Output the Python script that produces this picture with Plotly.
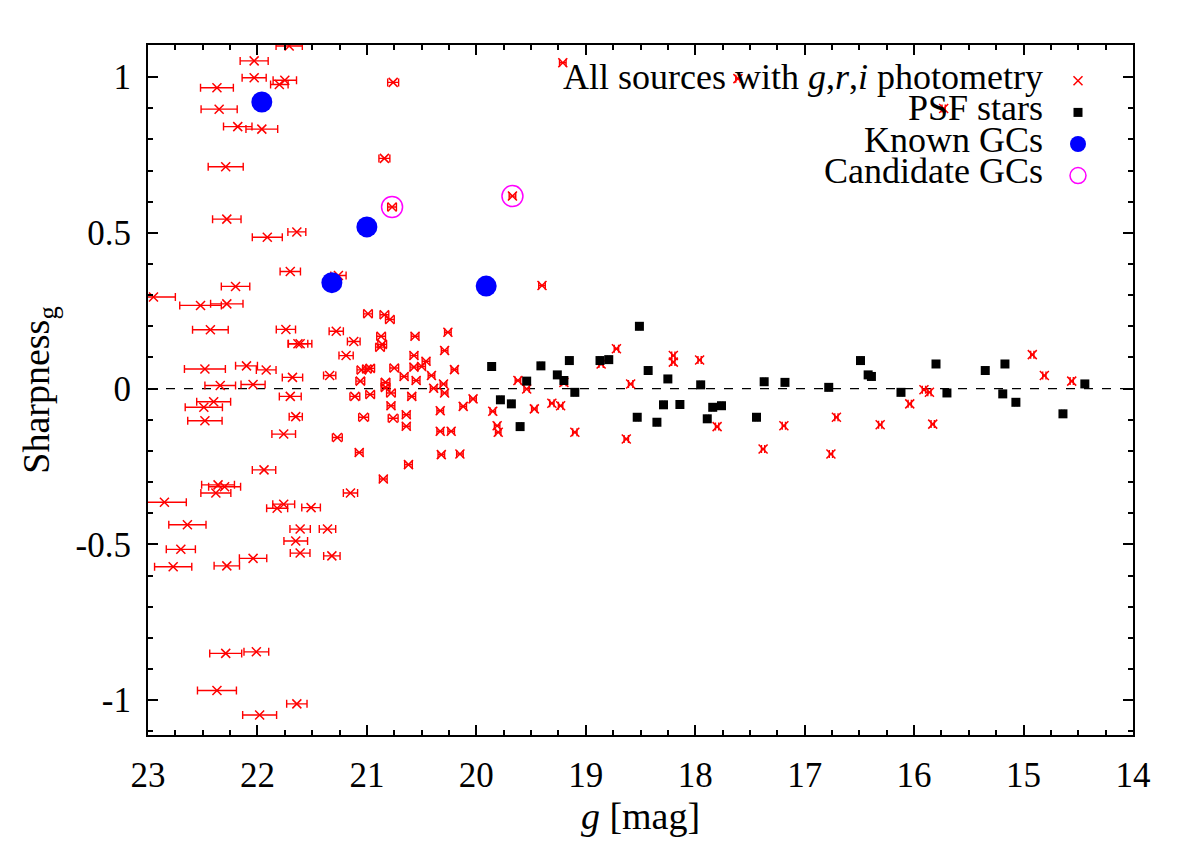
import plotly.graph_objects as go

# ---- All sources with g,r,i photometry (g, sharpness, g error) ----
g_all = [21.71, 22.03, 22.03, 21.75, 21.80, 22.37, 22.35, 22.18, 21.96, 22.29,
         22.28, 21.91, 21.64, 21.70, 21.26, 22.20, 20.76, 20.84, 20.77, 19.67,
         19.21, 17.61, 15.73, 19.40, 22.95, 22.52, 22.28, 22.43, 22.48, 22.34,
         22.10, 21.92, 22.04, 22.40, 22.49, 22.48, 21.74, 21.61, 21.63, 21.68,
         21.70, 21.65, 21.76, 21.94, 21.28, 21.12, 21.19, 21.34, 20.99, 20.84,
         20.79, 20.87, 20.88, 20.86, 20.56, 20.26, 20.29, 20.57, 20.46, 21.05,
         21.00, 20.97, 20.75, 20.57, 20.50, 20.66, 20.41, 20.20, 21.06, 20.83,
         20.55, 20.83, 20.39, 20.30, 21.11, 20.97, 20.78, 20.59, 20.29, 20.78,
         20.33, 20.12, 20.03, 21.03, 20.76, 20.64, 20.64, 20.33, 20.23, 21.27,
         21.07, 20.32, 20.15, 20.62, 20.85, 21.15, 22.36, 22.30, 22.38, 22.85,
         21.76, 21.82, 21.51, 22.64, 21.61, 21.36, 21.65, 22.70, 22.04, 21.61,
         21.32, 22.77, 22.28, 22.29, 22.01, 22.37, 21.64, 21.98, 19.85, 19.81,
         19.80, 19.62, 19.54, 19.47, 19.31, 19.23, 19.20, 19.10, 18.72, 18.86,
         18.59, 18.63, 18.20, 18.20, 17.96, 17.80, 17.38, 17.19, 16.76, 16.71,
         16.31, 16.04, 15.91, 15.86, 15.83, 14.92, 14.81, 14.56]
sharp_all = [1.100, 1.052, 0.998, 0.990, 0.976, 0.966, 0.897, 0.841, 0.833, 0.712,
             0.544, 0.486, 0.503, 0.376, 0.363, 0.328, 0.983, 0.739, 0.583, 0.618,
             1.046, 0.995, 0.899, 0.331, 0.294, 0.267, 0.272, 0.189, 0.063, 0.010,
             0.073, 0.060, 0.013, -0.042, -0.060, -0.103, 0.190, 0.144, 0.144, 0.036,
             -0.025, -0.090, -0.146, -0.261, 0.184, 0.151, 0.106, 0.042, 0.240, 0.237,
             0.222, 0.168, 0.133, 0.142, 0.168, 0.181, 0.122, 0.106, 0.088, 0.060,
             0.063, 0.065, 0.066, 0.069, 0.071, 0.039, 0.042, 0.061, 0.024, 0.020,
             0.026, 0.004, 0.001, 0.015, -0.025, -0.019, -0.014, -0.025, -0.014, -0.055,
             -0.071, -0.057, -0.033, -0.092, -0.095, -0.084, -0.121, -0.137, -0.137, -0.157,
             -0.205, -0.212, -0.210, -0.244, -0.290, -0.335, -0.309, -0.315, -0.335, -0.365,
             -0.371, -0.384, -0.382, -0.437, -0.451, -0.451, -0.489, -0.516, -0.545, -0.528,
             -0.537, -0.572, -0.569, -0.850, -0.845, -0.969, -1.012, -1.048, -0.073, -0.119,
             -0.140, 0.026, -0.001, -0.065, -0.047, -0.055, 0.020, -0.140, 0.128, 0.079,
             0.015, -0.162, 0.106, 0.085, 0.092, -0.122, -0.194, -0.119, -0.210, -0.092,
             -0.116, -0.049, -0.004, -0.012, -0.114, 0.109, 0.042, 0.024]
gerr_all = [0.120, 0.128, 0.110, 0.107, 0.080, 0.150, 0.165, 0.130, 0.145, 0.160,
            0.130, 0.137, 0.082, 0.093, 0.070, 0.130, 0.050, 0.050, 0.040, 0.030,
            0.030, 0.020, 0.015, 0.030, 0.200, 0.190, 0.148, 0.163, 0.187, 0.140,
            0.100, 0.090, 0.110, 0.155, 0.170, 0.157, 0.088, 0.107, 0.090, 0.093,
            0.100, 0.060, 0.108, 0.107, 0.065, 0.058, 0.065, 0.056, 0.040, 0.040,
            0.040, 0.040, 0.040, 0.040, 0.035, 0.030, 0.030, 0.035, 0.035, 0.040,
            0.040, 0.040, 0.040, 0.035, 0.035, 0.035, 0.030, 0.030, 0.040, 0.040,
            0.035, 0.040, 0.030, 0.030, 0.045, 0.040, 0.040, 0.035, 0.030, 0.035,
            0.030, 0.030, 0.030, 0.045, 0.045, 0.035, 0.035, 0.030, 0.030, 0.045,
            0.035, 0.030, 0.030, 0.035, 0.035, 0.065, 0.150, 0.146, 0.137, 0.200,
            0.100, 0.096, 0.085, 0.170, 0.093, 0.075, 0.108, 0.133, 0.125, 0.090,
            0.075, 0.170, 0.116, 0.146, 0.113, 0.178, 0.093, 0.155, 0.025, 0.025,
            0.025, 0.025, 0.025, 0.025, 0.020, 0.020, 0.020, 0.020, 0.020, 0.020,
            0.020, 0.020, 0.015, 0.015, 0.015, 0.015, 0.015, 0.015, 0.015, 0.015,
            0.015, 0.015, 0.015, 0.015, 0.015, 0.015, 0.015, 0.015]

# ---- PSF stars ----
g_psf = [19.86, 19.78, 19.68, 19.60, 19.54, 19.41, 19.26, 19.20, 19.15, 19.10,
         18.87, 18.79, 18.51, 18.43, 18.53, 18.35, 18.29, 18.25, 18.14, 17.95,
         17.89, 17.84, 17.76, 17.44, 17.37, 17.18, 16.78, 16.49, 16.42, 16.39,
         16.12, 15.80, 15.70, 15.35, 15.17, 15.19, 15.07, 14.64, 14.44]
sharp_psf = [0.071, -0.036, -0.049, -0.122, 0.024, 0.073, 0.044, 0.026, 0.090, -0.012,
             0.090, 0.093, 0.200, 0.058, -0.092, -0.108, -0.052, 0.031, -0.051, 0.012,
             -0.097, -0.060, -0.055, -0.092, 0.022, 0.020, 0.004, 0.090, 0.044, 0.039,
             -0.012, 0.079, -0.014, 0.058, 0.079, -0.017, -0.044, -0.081, 0.015]
gerr_psf = [0.012] * len(g_psf)

# ---- Known GCs ----
g_known = [21.96, 21.00, 21.32, 19.91]
sharp_known = [0.920, 0.519, 0.340, 0.329]

# ---- Candidate GCs ----
g_cand = [20.77, 19.67]
sharp_cand = [0.583, 0.618]

x_ticks = [23, 22, 21, 20, 19, 18, 17, 16, 15, 14]
y_ticks = [-1, -0.5, 0, 0.5, 1]

legend_labels = ["All sources with <i>g</i>,<i>r</i>,<i>i</i> photometry",
                 "PSF stars", "Known GCs", "Candidate GCs"]

SERIF = "Liberation Serif"

fig = go.Figure()

fig.add_trace(go.Scatter(
    x=g_all, y=sharp_all, mode="markers", name=" ",
    marker=dict(symbol="x-thin", size=9, color="red", line=dict(color="red", width=1.5)),
    error_x=dict(type="data", array=gerr_all, color="red", thickness=1.4, width=4),
))

fig.add_trace(go.Scatter(
    x=g_psf, y=sharp_psf, mode="markers", name=" ",
    marker=dict(symbol="square", size=9, color="black"),
    error_x=dict(type="data", array=gerr_psf, color="black", thickness=1.2, width=4),
))

fig.add_trace(go.Scatter(
    x=g_known, y=sharp_known, mode="markers", name=" ",
    marker=dict(symbol="circle", size=21, color="#0000ff"),
))

fig.add_trace(go.Scatter(
    x=g_cand, y=sharp_cand, mode="markers", name=" ",
    marker=dict(symbol="circle-open", size=21, color="#ff00ff", line=dict(width=1.5, color="#ff00ff")),
))

fig.add_hline(y=0, line=dict(color="black", width=1.2, dash="dash"), layer="below")

# legend texts, right-aligned to the left of the legend keys (gnuplot style)
row_y = [0.9536, 0.9087, 0.8623, 0.8174]
for lab, yy in zip(legend_labels, row_y):
    fig.add_annotation(
        text=lab, xref="paper", yref="paper", x=0.9107, y=yy,
        xanchor="right", yanchor="middle", showarrow=False,
        font=dict(family=SERIF, size=36, color="black"),
    )

axis_common = dict(
    showline=True, linecolor="black", linewidth=2, mirror="allticks",
    ticks="inside", ticklen=10, tickwidth=1.5, tickcolor="black",
    showgrid=False, zeroline=False,
    tickfont=dict(family=SERIF, size=35, color="black"),
)

fig.update_xaxes(
    range=[23, 14], tickvals=x_ticks, ticktext=[str(v) for v in x_ticks],
    minor=dict(ticks="inside", dtick=0.25, ticklen=5, tickwidth=1.5, tickcolor="black", showgrid=False),
    title=dict(text="<i>g</i> [mag]", font=dict(family=SERIF, size=38, color="black"), standoff=4),
    ticklabelstandoff=8,
    **axis_common,
)
fig.update_yaxes(
    range=[-1.112, 1.103], tickvals=y_ticks, ticktext=["-1", "-0.5", "0", "0.5", "1"],
    minor=dict(ticks="inside", dtick=0.1, ticklen=5, tickwidth=1.5, tickcolor="black", showgrid=False),
    title=dict(text="Sharpness<sub>g</sub>", font=dict(family=SERIF, size=38, color="black"), standoff=14),
    ticklabelstandoff=8,
    **axis_common,
)

fig.update_layout(
    width=1200, height=844,
    margin=dict(l=140, r=75, t=37, b=117, autoexpand=False),
    plot_bgcolor="white", paper_bgcolor="white",
    font=dict(family=SERIF, size=35, color="black"),
    showlegend=True,
    legend=dict(
        x=(1058 - 148) / 985, y=(735 - 60) / 690, xanchor="left", yanchor="top",
        bgcolor="rgba(0,0,0,0)", borderwidth=0,
        font=dict(family=SERIF, size=22, color="black"),
        tracegroupgap=0, itemsizing="trace",
    ),
)

fig.write_html("out.html")
